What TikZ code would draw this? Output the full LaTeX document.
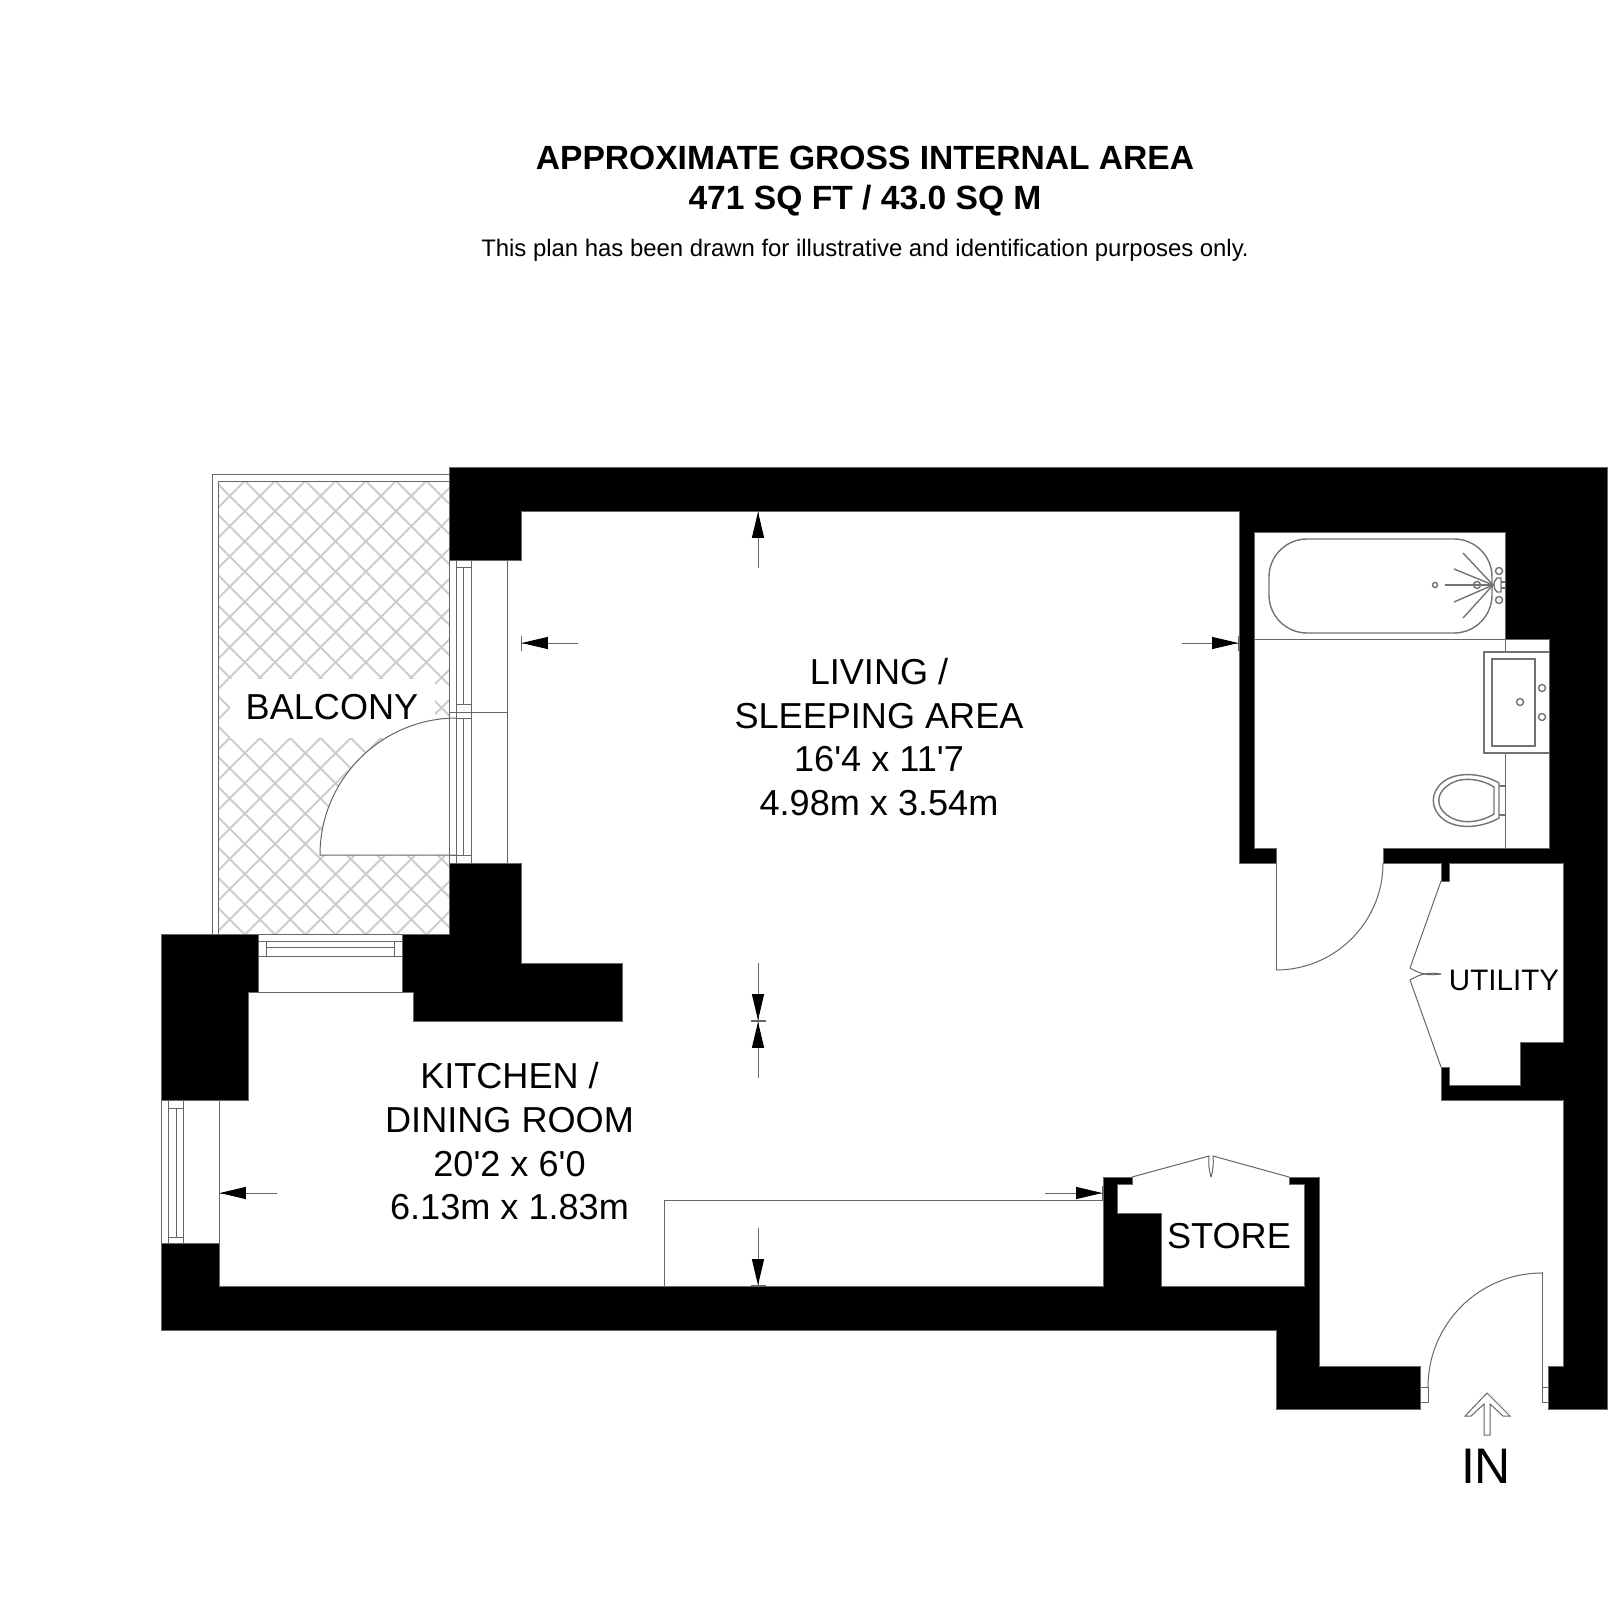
\documentclass[tikz,border=0pt]{standalone}
\usepackage{fontspec}
\setmainfont{Liberation Sans}
\usetikzlibrary{arrows.meta}

\tikzset{
    wall/.style={fill=black,draw=black!60,line width=.3pt},
    thinline/.style={draw=black!60,line width=.5pt},
    fixture/.style={draw=black!55,line width=.7pt},
    hatchline/.style={draw=black!20,line width=.9pt},
    roomlabel/.style={align=center,font=\fontsize{18.05}{21.85}\selectfont,inner sep=0pt}
}
\newcommand{\ft}{\textquotesingle}

\begin{document}
\begin{tikzpicture}[x=0.5pt,y=-0.5pt]
        \useasboundingbox (0,0) rectangle (1616,1620);

        \begin{scope}
            \clip (218,481) rectangle (449,934);
            \foreach \k in {-10,...,13} {
                \pgfmathsetmacro\c{998+30.25*\k}
                \draw [hatchline] ({\c-481},481) -- ({\c-934},934);
            }
            \foreach \k in {-8,...,15} {
                \pgfmathsetmacro\c{-478+30.25*\k}
                \draw [hatchline] ({\c+481},481) -- ({\c+934},934);
            }
            \fill [white] (230,679) rectangle (435,738);
        \end{scope}

        \begin{scope}[every path/.style={thinline}]
            \draw (449,474) -- (212,474) -- (212,934);
            \draw (449,481) -- (218,481) -- (218,934);

            \filldraw [fill=white] (457,855) -- (320,855) arc[start angle=180,end angle=270,radius=137];

            \draw (449,560) -- (449,863);
            \draw (456,560) -- (456,863);
            \draw (463,567) -- (463,704);
            \draw (463,718) -- (463,855);
            \draw (471,560) -- (471,863);
            \draw (507,560) -- (507,863);
            \draw (456,567) -- (471,567);
            \draw (456,704) -- (471,704);
            \draw (449,712) -- (507,712);
            \draw (456,718) -- (471,718);
            \draw (449,855) -- (471,855);

            \draw (258,934) -- (402,934);
            \draw (258,941) -- (402,941);
            \draw (266,947) -- (394,947);
            \draw (258,956) -- (402,956);
            \draw (266,941) -- (266,956);
            \draw (394,941) -- (394,956);
            \draw (258,992) -- (402,992);

            \draw (161,1100) -- (161,1243);
            \draw (168,1100) -- (168,1243);
            \draw (176,1108) -- (176,1237);
            \draw (183,1100) -- (183,1243);
            \draw (219,1100) -- (219,1243);
            \draw (168,1108) -- (183,1108);
            \draw (168,1237) -- (183,1237);

            \draw (664,1286) -- (664,1200) -- (1103,1200);

            \draw (1276,970) -- (1276,863);
            \draw (1276,970) arc[start angle=90,end angle=0,radius=107];

            \draw (1441,881) -- (1410,968) to [bend right=20] (1441,974);
            \draw (1441,1067) -- (1410,980) to [bend left=20] (1441,974);

            \draw (1132,1177) -- (1209,1156) to [bend right=10] (1211,1177);
            \draw (1289,1177) -- (1213,1156) to [bend left=10] (1211,1177);

            \draw (1542,1395) -- (1542,1272);
            \draw (1428,1387) arc[start angle=180,end angle=270,radius=114];
            \draw (1420,1387) rectangle (1428,1402);
            \draw (1542,1387) rectangle (1548,1402);

            \draw (1487,1393) -- (1510,1416) -- (1503,1416) -- (1490,1404) -- (1490,1435)
                -- (1484,1435) -- (1484,1404) -- (1471,1416) -- (1465,1416) -- cycle;

            \draw (1254,639) -- (1505,639);
            \draw (1505,639) -- (1505,652);
            \draw (1505,753) -- (1505,848);
        \end{scope}

        \begin{scope}[every path/.style={fixture}]
            \draw [rounded corners=19pt] (1269,539) rectangle (1492,633);
            \draw (1493,585) -- (1463,553);
            \draw (1493,585) -- (1454,569);
            \draw (1493,585) -- (1445,585);
            \draw (1493,585) -- (1454,602);
            \draw (1493,585) -- (1463,618);
            \draw (1499,571) circle [radius=3.5];
            \draw (1499,600) circle [radius=3.5];
            \draw (1477,585) circle [radius=3.5];
            \draw (1435,585) circle [radius=2.5];
            \draw (1501,578) -- (1497,578) to [bend right=50] (1497,592) -- (1501,592) -- cycle;
            \draw (1501,582) -- (1505,582);
            \draw (1501,588) -- (1505,588);

            \draw (1549,652) -- (1484,652) -- (1484,753) -- (1549,753);
            \draw (1492,659) rectangle (1535,746);
            \draw (1520,702) circle [radius=3.5];
            \draw (1542,688) circle [radius=3.5];
            \draw (1542,717) circle [radius=3.5];

            \draw (1499,783) .. controls (1480,772) and (1455,772) .. (1443,782)
                .. controls (1430,792) and (1430,809) .. (1443,819)
                .. controls (1455,829) and (1480,829) .. (1499,818) -- cycle;
            \draw (1494,787) .. controls (1478,777) and (1458,777) .. (1447,786)
                .. controls (1436,794) and (1436,807) .. (1447,815)
                .. controls (1458,824) and (1478,824) .. (1494,814) -- cycle;
            \draw (1499,786) -- (1505,786);
            \draw (1499,815) -- (1505,815);
        \end{scope}

        \begin{scope}[every path/.style={wall}]
            \filldraw (449,467) -- (1607,467) -- (1607,1409) -- (1548,1409) -- (1548,1366) -- (1563,1366)
                -- (1563,1100) -- (1441,1100) -- (1441,1067) -- (1449,1067) -- (1449,1085) -- (1520,1085)
                -- (1520,1042) -- (1563,1042) -- (1563,863) -- (1449,863) -- (1449,881) -- (1441,881)
                -- (1441,863) -- (1383,863) -- (1383,848) -- (1549,848) -- (1549,639) -- (1505,639)
                -- (1505,532) -- (1254,532) -- (1254,848) -- (1276,848) -- (1276,863) -- (1239,863)
                -- (1239,511) -- (521,511) -- (521,560) -- (449,560) -- cycle;
            \filldraw (1420,1366) -- (1420,1409) -- (1276,1409) -- (1276,1330) -- (161,1330) -- (161,1243)
                -- (219,1243) -- (219,1286) -- (1103,1286) -- (1103,1177) -- (1132,1177) -- (1132,1184)
                -- (1117,1184) -- (1117,1213) -- (1161,1213) -- (1161,1286) -- (1304,1286) -- (1304,1184)
                -- (1289,1184) -- (1289,1177) -- (1319,1177) -- (1319,1366) -- cycle;
            \filldraw (161,934) -- (258,934) -- (258,992) -- (248,992) -- (248,1100) -- (161,1100) -- cycle;
            \filldraw (402,934) -- (449,934) -- (449,863) -- (521,863) -- (521,963) -- (622,963)
                -- (622,1021) -- (413,1021) -- (413,992) -- (402,992) -- cycle;
        \end{scope}

        \begin{scope}[>={Triangle[black,length=13pt,width=6pt]Bar[black!60,width=7.5pt,line width=.4pt]},
                      every edge/.style={thinline}]
            \coordinate (livingTop) at (758,511);
            \coordinate (livingTopEnd) at (758,568);
            \coordinate (livingLeft) at (521,643);
            \coordinate (livingLeftEnd) at (578,643);
            \coordinate (livingRight) at (1239,643);
            \coordinate (livingRightEnd) at (1182,643);
            \coordinate (livingMid) at (758,1021);
            \coordinate (livingBottomEnd) at (758,1078);
            \coordinate (livingBottomStart) at (758,963);
            \coordinate (kitchenLeft) at (219,1193);
            \coordinate (kitchenLeftEnd) at (277,1193);
            \coordinate (kitchenRight) at (1103,1193);
            \coordinate (kitchenRightEnd) at (1045,1193);
            \coordinate (kitchenBottom) at (758,1286);
            \coordinate (kitchenBottomEnd) at (758,1228);
            \path [->] (livingTopEnd) edge (livingTop);
            \path [->] (livingLeftEnd) edge (livingLeft);
            \path [->] (livingRightEnd) edge (livingRight);
            \path [->] (livingBottomStart) edge (livingMid);
            \path [->] (livingBottomEnd) edge (livingMid);
            \path [->] (kitchenLeftEnd) edge (kitchenLeft);
            \path [->] (kitchenRightEnd) edge (kitchenRight);
            \path [->] (kitchenBottomEnd) edge (kitchenBottom);
        \end{scope}

        \begin{scope}[every node/.style={roomlabel}]
            \node (living) at (879,737) {LIVING /\\SLEEPING AREA\\16\ft 4 x 11\ft 7\\4.98m x 3.54m};
            \node (kitchen) at (509.5,1141.5) {KITCHEN /\\DINING ROOM\\20\ft 2 x 6\ft 0\\6.13m x 1.83m};
            \node (balcony) at (332,707) {BALCONY};
            \node (store) at (1229,1236) {STORE};
            \node (utility) [font=\fontsize{14.8}{18}\selectfont] at (1504,980) {UTILITY};
            \node (in) [font=\fontsize{25}{30}\selectfont] at (1486,1466) {IN};
        \end{scope}

        \node (title) [align=center,inner sep=0pt,font=\fontsize{16.8}{19.6}\bfseries] at (865,181)
            {APPROXIMATE GROSS INTERNAL AREA\\471 SQ FT / 43.0 SQ M};
        \node (note) [inner sep=0pt,font=\fontsize{11.95}{14}\selectfont] at (865,250)
            {This plan has been drawn for illustrative and identification purposes only.};
\end{tikzpicture}
\end{document}
